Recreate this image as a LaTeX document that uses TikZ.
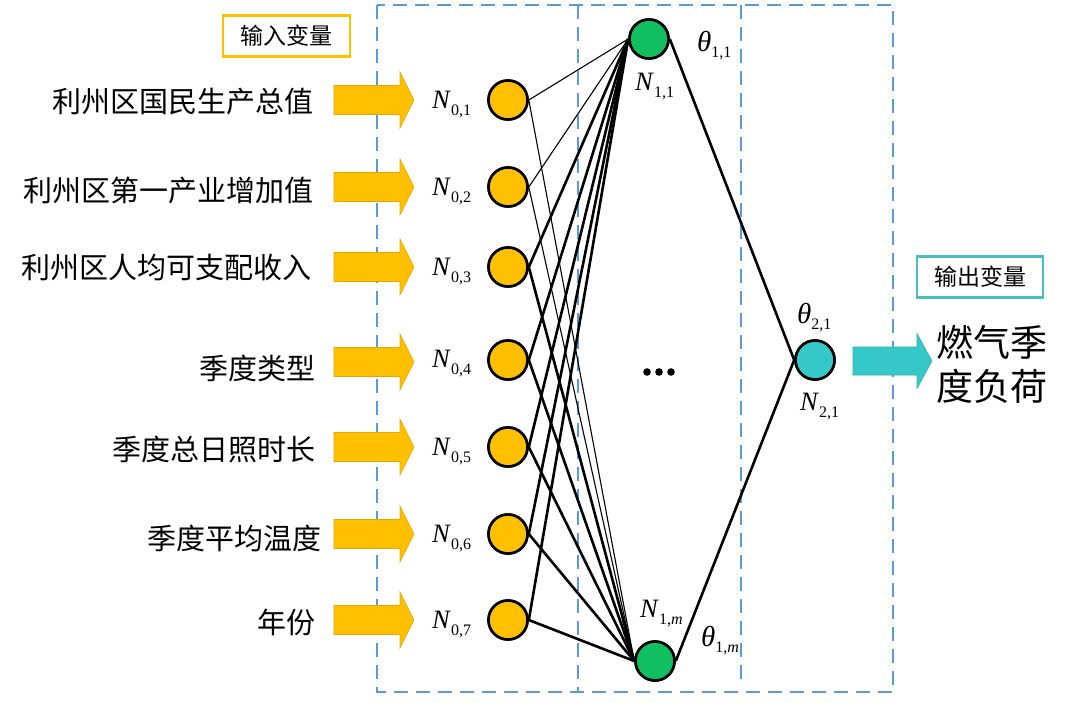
\documentclass[tikz,border=0pt]{standalone}
\usepackage{fontspec}
\setmainfont{Liberation Serif}
\newfontfamily\cjk{Noto Sans CJK SC}
\definecolor{inorange}{HTML}{FFC000}
\definecolor{hidgreen}{HTML}{10C060}
\definecolor{outteal}{HTML}{36C8C8}
\definecolor{boxblue}{HTML}{5B9BD5}
\definecolor{tealedge}{HTML}{48BEBE}
\newcommand{\varlab}[2]{\textit{#1}\raisebox{-7pt}{\fontsize{16}{16}\selectfont #2}}
\newcommand{\thlab}[2]{\textit{#1}\raisebox{-6pt}{\fontsize{16}{16}\selectfont #2}}
\begin{document}
\begin{tikzpicture}[x=1pt,y=-1pt,
  neuron/.style={circle, draw=black, line width=2.6pt, minimum size=39pt, inner sep=0pt},
  inneuron/.style={neuron, fill=inorange},
  hidneuron/.style={neuron, fill=hidgreen},
  outneuron/.style={neuron, fill=outteal},
  wthin/.style={line width=1.1pt},
  wthick/.style={line width=2.6pt},
  cjklab/.style={font=\cjk\fontsize{29}{29}\selectfont, anchor=east, inner sep=0pt},
  symlab/.style={font=\fontsize{26.5}{26.5}\selectfont, inner sep=0pt, anchor=base west},
  thetalab/.style={font=\fontsize{29}{29}\selectfont, inner sep=0pt, anchor=base west},
  tagbox/.style={font=\cjk\fontsize{23}{23}\selectfont, line width=2.5pt, inner sep=0pt, minimum height=41pt},
  dashbox/.style={draw=boxblue, line width=2pt, dash pattern=on 14pt off 8pt},
  inarrow/.pic={\fill[inorange, draw=inorange!88!black, line width=0.6pt]
     (0,-14.5) -- (66,-14.5) -- (66,-28) -- (80,0) -- (66,28) -- (66,14.5) -- (0,14.5) -- cycle;},
  outarrow/.pic={\fill[outteal, draw=outteal!88!black, line width=0.6pt]
     (0,-14) -- (64,-14) -- (64,-27.5) -- (79,0) -- (64,27.5) -- (64,14) -- (0,14) -- cycle;}
]
\useasboundingbox (0,0) rectangle (1076,710);

% dashed frames
\draw[dashbox] (377,5) rectangle (893,692);
\draw[dashbox] (578,5) -- (578,692);
\draw[dashbox] (741,5) -- (741,684);

% tags
\node[tagbox, draw=inorange, minimum width=127pt] (tagin) at (286.5,36) {输入变量};
\node[tagbox, draw=tealedge, minimum width=126pt] (tagout) at (980,277) {输出变量};

% input labels
\node[cjklab] (t1) at (314,102) {利州区国民生产总值};
\node[cjklab] (t2) at (314,191) {利州区第一产业增加值};
\node[cjklab] (t3) at (312,268) {利州区人均可支配收入};
\node[cjklab] (t4) at (316,368) {季度类型};
\node[cjklab] (t5) at (316,449) {季度总日照时长};
\node[cjklab] (t6) at (322,538) {季度平均温度};
\node[cjklab] (t7) at (316,622) {年份};

% input arrows
\foreach \yy in {100,187,267,362,447,534,620}
  \pic at (334,\yy) {inarrow};

% input neurons
\node[inneuron] (i1) at (508,100) {};
\node[inneuron] (i2) at (508,187) {};
\node[inneuron] (i3) at (508,267) {};
\node[inneuron] (i4) at (508,360) {};
\node[inneuron] (i5) at (508,447) {};
\node[inneuron] (i6) at (508,534) {};
\node[inneuron] (i7) at (508,620) {};

% hidden and output neurons
\node[hidneuron] (h1) at (649,39) {};
\node[hidneuron] (hm) at (655,661) {};
\node[outneuron] (o) at (815,360) {};

% connections
\foreach \k in {1,2} {
  \draw[wthin] (i\k.east) -- (h1.west);
  \draw[wthin] (i\k.east) -- (hm.west);
}
\foreach \k in {3,...,7} {
  \draw[wthick] (i\k.east) -- (h1.west);
  \draw[wthick] (i\k.east) -- (hm.west);
}
\draw[wthick] (h1.east) -- (o.west);
\draw[wthick] (hm.east) -- (o.west);

% redraw neurons on top
\foreach \n in {i1,i2,i3,i4,i5,i6,i7} \node[inneuron] at (\n) {};
\node[hidneuron] at (h1) {};
\node[hidneuron] at (hm) {};
\node[outneuron] at (o) {};

% neuron labels
\node[symlab] (n1) at (432,108) {\varlab{N}{0,1}};
\node[symlab] (n2) at (432,195) {\varlab{N}{0,2}};
\node[symlab] (n3) at (432,275) {\varlab{N}{0,3}};
\node[symlab] (n4) at (432,367) {\varlab{N}{0,4}};
\node[symlab] (n5) at (432,455) {\varlab{N}{0,5}};
\node[symlab] (n6) at (432,542) {\varlab{N}{0,6}};
\node[symlab] (n7) at (432,628) {\varlab{N}{0,7}};
\node[symlab] (nh1) at (635,90) {\varlab{N}{1,1}};
\node[symlab] (nhm) at (640,617) {\varlab{N}{1,\textit{m}}};
\node[symlab] (no) at (800,410) {\varlab{N}{2,1}};
\node[thetalab] (th1) at (697,51) {\thlab{θ}{1,1}};
\node[thetalab] (thm) at (701,646) {\thlab{θ}{1,\textit{m}}};
\node[thetalab] (tho) at (797,323) {\thlab{θ}{2,1}};

% ellipsis
\fill (647,372) circle (3.8) (659,372) circle (3.8) (671,372) circle (3.8);

% output
\pic at (853,361) {outarrow};
\node[font=\cjk\fontsize{37}{44}\selectfont, anchor=west, align=left, inner sep=0pt] (res) at (936,364) {燃气季\\度负荷};
\end{tikzpicture}
\end{document}
